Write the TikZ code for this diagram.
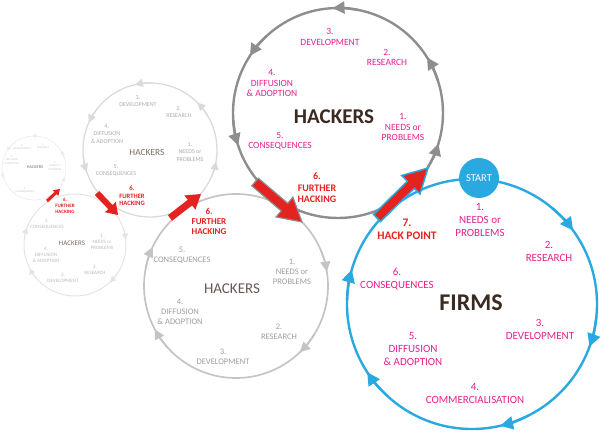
\documentclass[tikz,border=0pt]{standalone}
\usepackage{fontspec}
\setmainfont{Carlito}
\usepackage{xcolor}
\usepackage{tikz}
\usetikzlibrary{arrows.meta, calc, positioning}

\definecolor{firmblue}{HTML}{29A9E0}
\definecolor{stepmag}{HTML}{E6208C}
\definecolor{hackred}{HTML}{E42320}
\definecolor{darkbrown}{HTML}{3A2A22}
\definecolor{ringA}{HTML}{8E8E8E}
\definecolor{ringB}{HTML}{C4C4C4}
\definecolor{textB}{HTML}{9D9D9D}
\definecolor{titleB}{HTML}{665852}
\definecolor{ringC}{HTML}{DADADA}
\definecolor{textC}{HTML}{ABABAB}
\definecolor{titleC}{HTML}{7A6E68}
\definecolor{ringD}{HTML}{E4E4E4}
\definecolor{textD}{HTML}{BBBBBB}
\definecolor{ringE}{HTML}{EBEBEB}
\definecolor{textE}{HTML}{C6C6C6}

% fat arrow: [style] tail, tip, shaft half width, head half width, head length
\newcommand{\hackarrow}[6][]{%
  \coordinate (ha-h) at ($(#3)!#6!(#2)$);
  \path[#1] ($(#2)!#4!90:(#3)$) -- ($(ha-h)!#4!90:(#3)$) -- ($(ha-h)!#5!90:(#3)$)
    -- (#3) -- ($(ha-h)!#5!-90:(#3)$) -- ($(ha-h)!#4!-90:(#3)$)
    -- ($(#2)!#4!-90:(#3)$) -- cycle;
}

\begin{document}
\begin{tikzpicture}[x=1pt, y=1pt,
  firmline/.style={firmblue, line width=2.4pt},
  lblA/.style={text=stepmag, align=center, font=\fontsize{11}{13}\selectfont},
  lblT/.style={text=stepmag, align=center, font=\fontsize{9.5}{10.5}\selectfont},
  lblM/.style={text=textB, align=center, font=\fontsize{8.5}{10}\selectfont},
  lblS/.style={text=textC, align=center, font=\fontsize{6}{7.3}\selectfont},
  lblR/.style={text=textD, align=center, font=\fontsize{5}{6}\selectfont},
  lblQ/.style={text=textE, align=center, font=\fontsize{2.8}{3.3}\selectfont},
  hacklbl/.style={text=hackred, align=center, font=\bfseries},
  startnode/.style={circle, fill=firmblue, text=white, minimum size=40pt, inner sep=0pt,
    font=\fontsize{10.5}{12}\selectfont}]
  \useasboundingbox (0,0) rectangle (600,434);

  % Circle centres
  \coordinate (firms) at (472,130);
  \coordinate (hackT) at (338,321);
  \coordinate (hackM) at (236,148);
  \coordinate (hackS) at (150,284);
  \coordinate (hackR) at (75,189);
  \coordinate (hackQ) at (34,266);

  % Firms cycle (clockwise)
  \draw[firmline] (firms) circle (125);
  \foreach \a in {36,-20,-77,213,164}
    \draw[firmline, -{Triangle[length=13pt,width=13pt]}] (firms) ++(\a+14:125) arc (\a+14:\a:125);
  \node[startnode] (start) at (479,256) {START};

  % Hackers cycles
  \draw[ringA, line width=2.4pt] (hackT) circle (105);
  \foreach \a in {32,93,147,198,-17}
    \draw[ringA, line width=2.4pt, -{Triangle[length=12pt,width=12pt]}] (hackT) ++(\a-14:105) arc (\a-14:\a:105);

  \draw[ringB, line width=1.7pt] (hackM) circle (92);
  \foreach \a in {9,-46,208,155}
    \draw[ringB, line width=1.7pt, -{Triangle[length=10pt,width=10pt]}] (hackM) ++(\a+14:92) arc (\a+14:\a:92);

  \draw[ringC, line width=1.3pt] (hackS) circle (67);
  \foreach \a in {45,103,156,199,-10}
    \draw[ringC, line width=1.3pt, -{Triangle[length=8pt,width=8pt]}] (hackS) ++(\a-14:67) arc (\a-14:\a:67);

  \draw[ringD, line width=1pt] (hackR) circle (51);
  \foreach \a in {6,-47,207,160}
    \draw[ringD, line width=1pt, -{Triangle[length=6pt,width=6pt]}] (hackR) ++(\a+14:51) arc (\a+14:\a:51);

  \draw[ringE, line width=0.6pt] (hackQ) circle (32);
  \foreach \a in {32,93,147,198,-17}
    \draw[ringE, line width=0.6pt, -{Triangle[length=4pt,width=4pt]}] (hackQ) ++(\a-14:32) arc (\a-14:\a:32);

  % Firms labels
  \node[lblA] (f1) at (480,214) {1.\\NEEDS or\\PROBLEMS};
  \node[lblA] (f2) at (549,183) {2.\\RESEARCH};
  \node[lblA] (f3) at (540,104.5) {3.\\DEVELOPMENT};
  \node[lblA] (f4) at (475,40) {4.\\COMMERCIALISATION};
  \node[lblA] (f5) at (413,85) {5.\\DIFFUSION\\\& ADOPTION};
  \node[lblA] (f6) at (397,154.5) {6.\\CONSEQUENCES};
  \node[hacklbl, font=\bfseries\fontsize{11.5}{13}\selectfont] (f7) at (407,204.5) {7.\\HACK POINT};
  \node[text=darkbrown, font=\bfseries\fontsize{24}{28}\selectfont] (ftitle) at (471,131) {FIRMS};

  % Top hackers labels
  \node[lblT] (t1) at (403,307) {1.\\NEEDS or\\PROBLEMS};
  \node[lblT] (t2) at (387,376.5) {2.\\RESEARCH};
  \node[lblT] (t3) at (330,397) {3.\\DEVELOPMENT};
  \node[lblT] (t4) at (272,351) {4.\\DIFFUSION\\\& ADOPTION};
  \node[lblT] (t5) at (280,293) {5.\\CONSEQUENCES};
  \node[hacklbl, font=\bfseries\fontsize{10}{11.5}\selectfont] (t6) at (317,246) {6.\\FURTHER\\HACKING};
  \node[text=darkbrown, font=\bfseries\fontsize{21}{24}\selectfont] (ttitle) at (334,317) {HACKERS};

  % Middle hackers labels
  \node[lblM] (m1) at (292,162) {1.\\NEEDS or\\PROBLEMS};
  \node[lblM] (m2) at (279,102) {2.\\RESEARCH};
  \node[lblM] (m3) at (223,77) {3.\\DEVELOPMENT};
  \node[lblM] (m4) at (180,122) {4.\\DIFFUSION\\\& ADOPTION};
  \node[lblM] (m5) at (182,179) {5.\\CONSEQUENCES};
  \node[hacklbl, font=\bfseries\fontsize{9}{10}\selectfont] (m6) at (209,213) {6.\\FURTHER\\HACKING};
  \node[text=titleB, font=\fontsize{15}{18}\selectfont] (mtitle) at (232,145) {HACKERS};

  % Second hackers labels
  \node[lblS] (s1) at (190,282) {1.\\NEEDS or\\PROBLEMS};
  \node[lblS] (s2) at (179,322) {2.\\RESEARCH};
  \node[lblS] (s3) at (138,333) {3.\\DEVELOPMENT};
  \node[lblS] (s4) at (107,300) {4.\\DIFFUSION\\\& ADOPTION};
  \node[lblS] (s5) at (116,263.5) {5.\\CONSEQUENCES};
  \node[hacklbl, font=\bfseries\fontsize{6.6}{7.5}\selectfont] (s6) at (132,238) {6.\\FURTHER\\HACKING};
  \node[text=titleC, font=\fontsize{9.4}{11}\selectfont] (stitle) at (147,282) {HACKERS};

  % Third hackers labels
  \node[lblR] (r1) at (102,192) {1.\\NEEDS or\\PROBLEMS};
  \node[lblR] (r2) at (95,164.5) {2.\\RESEARCH};
  \node[lblR] (r3) at (63,156) {3.\\DEVELOPMENT};
  \node[lblR] (r4) at (46,179) {4.\\DIFFUSION\\\& ADOPTION};
  \node[lblR] (r5) at (47,210) {5.\\CONSEQUENCES};
  \node[hacklbl, font=\bfseries\fontsize{5}{6}\selectfont] (r6) at (65,228) {6.\\FURTHER\\HACKING};
  \node[text=titleC, font=\fontsize{7}{8}\selectfont] (rtitle) at (72,191) {HACKERS};

  % Smallest hackers labels
  \node[lblQ] (q1) at (55,268) {1.\\NEEDS or\\PROBLEMS};
  \node[lblQ] (q2) at (43,288) {2.\\RESEARCH};
  \node[lblQ] (q3) at (22,287) {3.\\DEVELOPMENT};
  \node[lblQ] (q4) at (12,274) {4.\\DIFFUSION\\\& ADOPTION};
  \node[lblQ] (q5) at (25,244) {5.\\CONSEQUENCES};
  \node[text=titleC, font=\fontsize{4.3}{5}\selectfont] (qtitle) at (35,267) {HACKERS};

  % Hack arrows
  \coordinate (a1) at (377,216); \coordinate (a1t) at (428,266);
  \coordinate (a2) at (255,252); \coordinate (a2t) at (302,212);
  \coordinate (a3) at (170,216); \coordinate (a3t) at (201,240);
  \coordinate (a4) at (97,241);  \coordinate (a4t) at (118,219);
  \coordinate (a5) at (47,233);  \coordinate (a5t) at (60,245);
  \hackarrow[fill=hackred, draw=firmblue, line width=1.5pt, line join=miter]{a1}{a1t}{5pt}{13pt}{24pt}
  \hackarrow[fill=hackred, draw=ringA, line width=1.2pt, line join=miter]{a2}{a2t}{5pt}{13pt}{23pt}
  \hackarrow[fill=hackred]{a3}{a3t}{3.5pt}{9pt}{14pt}
  \hackarrow[fill=hackred]{a4}{a4t}{3pt}{7.5pt}{11pt}
  \hackarrow[fill=hackred]{a5}{a5t}{1.5pt}{4pt}{6pt}
\end{tikzpicture}
\end{document}
